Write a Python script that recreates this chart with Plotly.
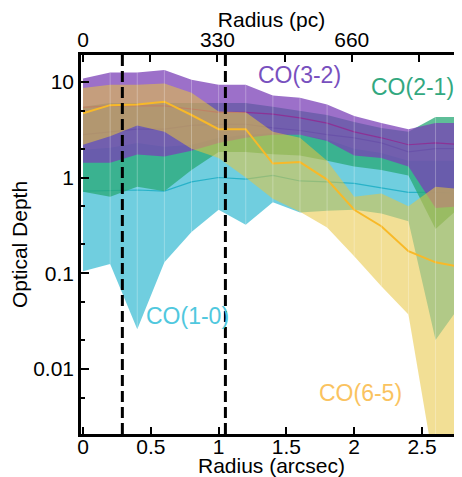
import plotly.graph_objects as go
import numpy as np

# ---------------- data ----------------
radius_arcsec = [0.0, 0.2, 0.4, 0.6, 0.8, 1.0, 1.2, 1.4, 1.6, 1.8, 2.0, 2.2, 2.4, 2.6, 2.8]
PC_PER_ARCSEC = 333.0

co10_med = [0.72, 0.73, 0.74, 0.72, 0.90, 1.00, 0.96, 1.05, 0.92, 0.90, 0.87, 0.78, 0.70, 0.70, 0.68]
co10_hi  = [1.95, 2.05, 2.30, 2.10, 2.20, 2.60, 2.80, 2.90, 2.80, 2.50, 2.00, 1.80, 1.50, 1.50, 1.50]
co10_lo  = [0.105, 0.125, 0.026, 0.13, 0.27, 0.46, 0.32, 0.55, 0.43, 0.45, 0.46, 0.42, 0.35, 0.02, 0.05]

co21_med = [2.8, 3.0, 3.2, 3.2, 3.5, 3.6, 3.6, 3.3, 3.1, 2.8, 2.6, 2.3, 1.85, 2.0, 2.0]
co21_hi  = [5.5, 6.0, 6.0, 6.0, 6.0, 6.0, 6.0, 5.5, 5.0, 4.5, 3.8, 3.3, 3.0, 4.3, 4.3]
co21_lo  = [0.71, 0.63, 0.80, 0.72, 1.20, 1.85, 1.85, 1.75, 1.70, 1.50, 1.30, 1.20, 1.05, 0.29, 0.52]

co32_med = [5.4, 5.6, 5.6, 5.6, 5.2, 4.8, 4.8, 4.6, 4.2, 3.7, 3.0, 2.6, 2.2, 2.3, 2.2]
co32_hi  = [10.8, 12.5, 12.5, 13.3, 10.5, 9.3, 9.3, 7.2, 6.8, 5.8, 4.4, 3.7, 3.2, 3.7, 3.7]
co32_lo  = [1.43, 1.43, 1.74, 1.66, 1.90, 2.30, 2.60, 2.80, 2.80, 2.40, 1.70, 1.60, 1.30, 0.48, 0.50]

co65_med = [4.7, 5.7, 5.8, 6.2, 4.5, 3.2, 3.2, 1.4, 1.45, 0.95, 0.46, 0.31, 0.17, 0.13, 0.115]
co65_hi  = [8.6, 9.3, 9.3, 9.6, 7.7, 4.9, 4.8, 3.0, 2.6, 1.5, 0.63, 0.68, 0.50, 0.80, 0.75]
co65_lo  = [2.2, 2.7, 3.5, 3.0, 2.0, 1.6, 1.0, 0.60, 0.44, 0.30, 0.15, 0.073, 0.037, 0.0008, 0.0008]

ring_radii = [0.29, 1.05]

x_ticks = [0, 0.5, 1, 1.5, 2, 2.5]
x_ticklabels = ["0", "0.5", "1", "1.5", "2", "2.5"]
pc_ticks = [0, 330, 660]
pc_minor = [165, 495, 825]
y_ticks = [0.01, 0.1, 1, 10]
y_ticklabels = ["0.01", "0.1", "1", "10"]
y_minor = [0.002, 0.005, 0.02, 0.05, 0.2, 0.5, 2, 5]

labels = ["CO(1-0)", "CO(2-1)", "CO(3-2)", "CO(6-5)"]

# ---------------- styling ----------------
FONT = "Liberation Sans, Arial, Helvetica, sans-serif"
series = [
    (co10_lo, co10_med, co10_hi, "rgba(64,190,212,0.75)", "rgb(40,178,200)", 1.2),
    (co21_lo, co21_med, co21_hi, "rgba(40,168,118,0.75)", "rgb(60,140,130)", 1.2),
    (co32_lo, co32_med, co32_hi, "rgba(122,62,182,0.74)", "rgb(140,50,150)", 1.2),
    (co65_lo, co65_med, co65_hi, "rgba(232,196,62,0.55)", "rgb(248,185,40)", 2.0),
]

fig = go.Figure()
for (lo, med, hi, fcol, lcol, lw), name in zip(series, labels):
    fig.add_trace(go.Scatter(
        x=radius_arcsec + radius_arcsec[::-1],
        y=hi + lo[::-1],
        fill="toself", fillcolor=fcol, mode="lines",
        line=dict(width=0, color=fcol), hoverinfo="skip", showlegend=False, name=name))
    fig.add_trace(go.Scatter(
        x=radius_arcsec, y=med, mode="lines",
        line=dict(width=lw, color=lcol), showlegend=False, name=name))

# faint polygon seams at every sampled radius (as in the original rendering)
all_lo = [min(v) for v in zip(co10_lo, co21_lo, co32_lo, co65_lo)]
all_hi = [max(v) for v in zip(co10_hi, co21_hi, co32_hi, co65_hi)]
seam_x, seam_y = [], []
for rv, lo_v, hi_v in list(zip(radius_arcsec, all_lo, all_hi))[1:-1]:
    seam_x += [rv, rv, None]
    seam_y += [lo_v, hi_v, None]
fig.add_trace(go.Scatter(x=seam_x, y=seam_y, mode="lines", connectgaps=False,
                         line=dict(width=1, color="rgba(255,255,255,0.28)"),
                         hoverinfo="skip", showlegend=False))

# invisible trace to activate top / right axes
fig.add_trace(go.Scatter(
    x=[v * PC_PER_ARCSEC for v in radius_arcsec], y=co10_med,
    xaxis="x2", yaxis="y2", mode="lines", opacity=0,
    hoverinfo="skip", showlegend=False))

for rr in ring_radii:
    fig.add_shape(type="line", xref="x", yref="paper", x0=rr, x1=rr, y0=0, y1=1,
                  line=dict(color="black", width=3, dash="11px,5px"))

xr = [-0.015, 2.795]
yr = [-2.68, 1.28]

# page body has an 8px margin: figure is 454x469 placed at (8,8)
fig.update_layout(
    width=454, height=469,
    margin=dict(l=73, r=0, t=47, b=43, autoexpand=False),
    paper_bgcolor="white", plot_bgcolor="white",
    font=dict(family=FONT, size=21, color="black"),
    xaxis=dict(range=xr, tickvals=x_ticks, ticktext=x_ticklabels, automargin=False,
               ticks="inside", ticklen=7, tickwidth=2, tickcolor="black",
               showline=True, linewidth=2.5, linecolor="black",
               showgrid=False, zeroline=False, ticklabelstandoff=-8,
               tickfont=dict(size=21, family=FONT),
               title=dict(text="Radius (arcsec)", font=dict(size=21, family=FONT), standoff=9)),
    xaxis2=dict(range=[xr[0] * PC_PER_ARCSEC, xr[1] * PC_PER_ARCSEC], overlaying="x", side="top",
                automargin=False,
                tickvals=pc_ticks, ticks="inside", ticklen=7, tickwidth=2, tickcolor="black",
                minor=dict(tickvals=pc_minor, ticks="inside", ticklen=7, tickwidth=2, tickcolor="black"),
                showline=True, linewidth=2.5, linecolor="black",
                showgrid=False, zeroline=False, ticklabelstandoff=-3,
                tickfont=dict(size=21, family=FONT),
                title=dict(text="Radius (pc)", font=dict(size=21, family=FONT), standoff=5)),
    yaxis=dict(type="log", range=yr, tickvals=y_ticks, ticktext=y_ticklabels, automargin=False,
               ticks="inside", ticklen=8, tickwidth=2, tickcolor="black",
               minor=dict(tickvals=y_minor, ticks="inside", ticklen=4, tickwidth=2, tickcolor="black"),
               showline=True, linewidth=2.5, linecolor="black",
               showgrid=False, zeroline=False,
               tickfont=dict(size=21, family=FONT),
               title=dict(text="Optical Depth", font=dict(size=21, family=FONT), standoff=4)),
    yaxis2=dict(type="log", range=yr, overlaying="y", side="right", automargin=False,
                tickvals=y_ticks, showticklabels=False,
                ticks="inside", ticklen=8, tickwidth=2, tickcolor="black",
                minor=dict(tickvals=y_minor, ticks="inside", ticklen=4, tickwidth=2, tickcolor="black"),
                showline=False, showgrid=False, zeroline=False),
)

annots = [
    ("CO(3-2)", 1.60, 11.8, "rgb(120,80,190)"),
    ("CO(2-1)", 2.43, 8.87, "rgb(50,168,128)"),
    ("CO(1-0)", 0.774, 0.0356, "rgb(80,200,222)"),
    ("CO(6-5)", 2.043, 0.0056, "rgb(250,195,95)"),
]
for text, ax_, ay_, col in annots:
    fig.add_annotation(x=ax_, y=np.log10(ay_), xref="x", yref="y", text=text, showarrow=False,
                       font=dict(size=23, family=FONT, color=col), xanchor="center", yanchor="middle")

fig.write_html("out.html")
